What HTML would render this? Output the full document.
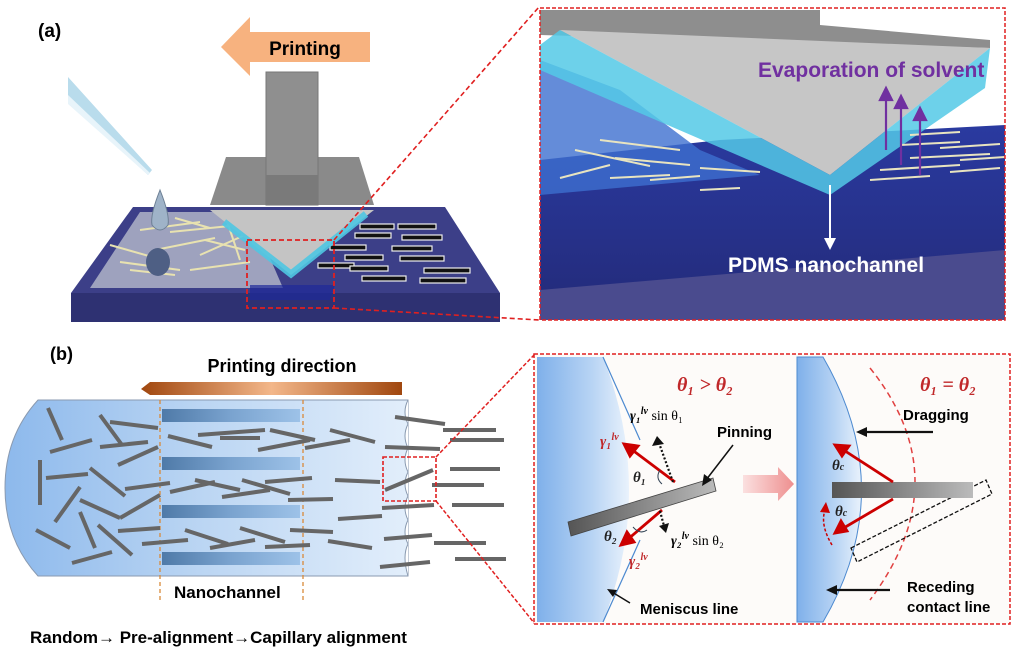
<!DOCTYPE html>
<html><head><meta charset="utf-8"><style>
html,body{margin:0;padding:0;background:#fff;}
svg{display:block;font-family:"Liberation Sans",sans-serif;}
.b{font-weight:bold;}
.m{font-family:"Liberation Serif",serif;font-style:italic;font-weight:bold;}
</style></head><body>
<svg width="1024" height="657" viewBox="0 0 1024 657" xmlns="http://www.w3.org/2000/svg">
<defs>
<linearGradient id="chan" x1="0" x2="1" y1="0" y2="0"><stop offset="0" stop-color="#8db9ec"/><stop offset="0.5" stop-color="#bcd6f3"/><stop offset="1" stop-color="#e2eefb"/></linearGradient>
<linearGradient id="stripe" x1="0" x2="1"><stop offset="0" stop-color="#4f7aa8"/><stop offset="0.5" stop-color="#7aa3cf"/><stop offset="1" stop-color="#9dc2e8"/></linearGradient>
<linearGradient id="parr" x1="0" x2="1"><stop offset="0" stop-color="#a0470f"/><stop offset="0.5" stop-color="#f3b78a"/><stop offset="1" stop-color="#a0470f"/></linearGradient>
<linearGradient id="liq" x1="0" x2="1"><stop offset="0" stop-color="#7fb0ea"/><stop offset="0.6" stop-color="#b8d4f4"/><stop offset="1" stop-color="#e9f2fc"/></linearGradient>
<linearGradient id="rod" x1="0" x2="1"><stop offset="0" stop-color="#555"/><stop offset="1" stop-color="#bbb"/></linearGradient>
<linearGradient id="pink" x1="0" x2="1"><stop offset="0" stop-color="#fbe0e0"/><stop offset="1" stop-color="#ee8f8f"/></linearGradient>
<linearGradient id="sub" x1="0" x2="0" y1="0" y2="1"><stop offset="0" stop-color="#2a3aa0"/><stop offset="1" stop-color="#232a78"/></linearGradient>
</defs>

<!-- ===== (a) main ===== -->
<text x="38" y="37" class="b" font-size="19">(a)</text>
<polygon points="221,47 250,17 250,32 370,32 370,62 250,62 250,76" fill="#f7b27f"/>
<text x="305" y="55" class="b" font-size="19" text-anchor="middle">Printing</text>
<!-- pipette -->
<polygon points="68,77 152,170 148,175 68,102" fill="#b9dcec"/>
<polygon points="68,95 150,173 148,175 68,104" fill="#e8f4fa"/>
<!-- substrate -->
<polygon points="71,293 500,293 500,322 71,322" fill="#2e3172"/>
<polygon points="133,207 445,207 500,293 71,293" fill="#3c3f88"/>
<!-- glass sheet -->
<polygon points="140,212 250,212 283,288 90,288" fill="#a9adc4" opacity="0.9"/>
<g stroke="#e8e2b0" stroke-width="2">
<line x1="140" y1="230" x2="200" y2="222"/><line x1="155" y1="250" x2="215" y2="238"/><line x1="120" y1="262" x2="180" y2="270"/>
<line x1="170" y1="232" x2="230" y2="226"/><line x1="200" y1="255" x2="245" y2="235"/><line x1="110" y1="245" x2="170" y2="262"/>
<line x1="190" y1="270" x2="250" y2="262"/><line x1="130" y1="270" x2="175" y2="275"/><line x1="175" y1="218" x2="210" y2="228"/>
<line x1="205" y1="240" x2="245" y2="250"/><line x1="225" y1="215" x2="240" y2="260"/>
</g>
<!-- droplet -->
<path d="M160,190 Q150,215 152,225 Q160,235 168,225 Q170,215 160,190Z" fill="#9fb3c8" stroke="#6c7f94"/>
<ellipse cx="158" cy="262" rx="12" ry="14" fill="#4e5f84"/>
<!-- aligned bars -->
<g fill="#111" stroke="#eee" stroke-width="1.2">
<rect x="360" y="224" width="34" height="5"/><rect x="398" y="224" width="38" height="5"/>
<rect x="355" y="233" width="36" height="5"/><rect x="402" y="235" width="40" height="5"/>
<rect x="330" y="245" width="36" height="5"/><rect x="392" y="246" width="40" height="5"/>
<rect x="345" y="255" width="38" height="5"/><rect x="400" y="256" width="44" height="5"/>
<rect x="318" y="263" width="36" height="5"/><rect x="350" y="266" width="38" height="5"/><rect x="424" y="268" width="46" height="5"/>
<rect x="362" y="276" width="44" height="5"/><rect x="420" y="278" width="46" height="5"/>
</g>
<!-- print head -->
<polygon points="226,157 359,157 374,205 210,205" fill="#8a8a8a"/>
<rect x="266" y="72" width="52" height="133" fill="#8f8f8f" stroke="#777"/>
<rect x="266" y="175" width="52" height="30" fill="#7a7a7a"/>
<polygon points="210,210 374,210 291,275" fill="#c4c4c4"/>
<polyline points="224,222 291,274 366,214" fill="none" stroke="#4fc6e2" stroke-width="7" opacity="0.9"/>
<polygon points="250,285 335,285 330,300 250,300" fill="#1e2a9a" opacity="0.7"/>
<!-- red box and lines -->
<rect x="247" y="240" width="87" height="68" fill="none" stroke="#e02020" stroke-width="1.8" stroke-dasharray="5,3"/>
<line x1="334" y1="240" x2="539" y2="7" stroke="#e02020" stroke-width="1.6" stroke-dasharray="5,3"/>
<line x1="334" y1="308" x2="539" y2="320" stroke="#e02020" stroke-width="1.6" stroke-dasharray="5,3"/>

<!-- ===== (a) inset ===== -->
<g>
<clipPath id="ia"><rect x="540" y="8" width="465" height="312"/></clipPath>
<g clip-path="url(#ia)">
<rect x="540" y="8" width="465" height="312" fill="#fff"/>
<polygon points="540,160 720,140 1005,125 1005,320 540,320" fill="url(#sub)"/>
<polygon points="540,290 1005,250 1005,320 540,320" fill="#4a4b8e"/>
<polygon points="540,60 620,90 700,150 760,175 540,195" fill="#3d6fd0" opacity="0.8"/>
<polygon points="540,10 820,10 820,25 990,40 990,48 540,35" fill="#8e8e8e"/>
<polygon points="560,30 990,48 830,175" fill="#c6c6c6"/>
<polygon points="560,30 830,175 830,195 540,70 540,45" fill="#53c9e6" opacity="0.85"/>
<polygon points="830,175 990,48 985,88 830,195" fill="#53c9e6" opacity="0.85"/>
<g stroke="#e8e4c0" stroke-width="2">
<line x1="575" y1="150" x2="650" y2="166"/><line x1="615" y1="158" x2="690" y2="165"/><line x1="560" y1="178" x2="610" y2="165"/>
<line x1="610" y1="178" x2="670" y2="175"/><line x1="650" y1="180" x2="700" y2="176"/><line x1="700" y1="168" x2="760" y2="172"/>
<line x1="700" y1="190" x2="740" y2="188"/><line x1="600" y1="140" x2="680" y2="150"/>
<line x1="870" y1="180" x2="930" y2="176"/><line x1="880" y1="170" x2="960" y2="165"/><line x1="910" y1="158" x2="990" y2="154"/>
<line x1="940" y1="148" x2="1000" y2="144"/><line x1="900" y1="145" x2="960" y2="142"/><line x1="950" y1="172" x2="1000" y2="168"/>
<line x1="910" y1="135" x2="960" y2="132"/><line x1="960" y1="160" x2="1005" y2="157"/>
</g>
</g>
<rect x="540" y="8" width="465" height="312" fill="none" stroke="#e02020" stroke-width="1.5" stroke-dasharray="4,2"/>
<text x="758" y="77" class="b" font-size="21" fill="#7030a0">Evaporation of solvent</text>
<g stroke="#7030a0" stroke-width="2.2" fill="#7030a0">
<line x1="886" y1="150" x2="886" y2="98"/><polygon points="880,100 886,88 892,100"/>
<line x1="901" y1="165" x2="901" y2="106"/><polygon points="895,108 901,96 907,108"/>
<line x1="920" y1="175" x2="920" y2="118"/><polygon points="914,120 920,108 926,120"/>
</g>
<line x1="830" y1="185" x2="830" y2="240" stroke="#fff" stroke-width="2"/>
<polygon points="824,238 830,250 836,238" fill="#fff"/>
<text x="728" y="272" class="b" font-size="21" fill="#fff">PDMS nanochannel</text>
</g>

<!-- ===== (b) main ===== -->
<text x="50" y="360" class="b" font-size="18">(b)</text>
<text x="282" y="372" class="b" font-size="18" text-anchor="middle">Printing direction</text>
<polygon points="141,389 150,382 402,382 402,395 150,395" fill="url(#parr)"/>
<path d="M38,400 L408,400 L408,576 L38,576 Q5,540 5,488 Q5,436 38,400Z" fill="url(#chan)" stroke="#8a9ab0" stroke-width="1"/>
<g fill="url(#stripe)">
<rect x="162" y="409" width="138" height="13"/><rect x="162" y="457" width="138" height="13"/>
<rect x="162" y="505" width="138" height="13"/><rect x="162" y="552" width="138" height="13"/>
</g>
<line x1="160" y1="400" x2="160" y2="600" stroke="#d98a3a" stroke-width="1.3" stroke-dasharray="4,3"/>
<line x1="303" y1="400" x2="303" y2="600" stroke="#d98a3a" stroke-width="1.3" stroke-dasharray="4,3"/>
<path d="M408,400 q-6,12 0,24 q-6,12 0,24 q-6,12 0,24 q-6,12 0,24 q-6,12 0,24 q-6,12 0,24 q-6,12 0,32" fill="#fff" stroke="#8a9ab0"/>
<g stroke="#666" stroke-width="4">
<line x1="48" y1="408" x2="62" y2="440"/><line x1="100" y1="415" x2="122" y2="445"/><line x1="110" y1="422" x2="158" y2="428"/>
<line x1="50" y1="452" x2="92" y2="440"/><line x1="100" y1="447" x2="148" y2="442"/><line x1="118" y1="465" x2="158" y2="447"/>
<line x1="40" y1="460" x2="40" y2="505"/><line x1="46" y1="478" x2="88" y2="474"/><line x1="90" y1="468" x2="125" y2="496"/>
<line x1="55" y1="522" x2="80" y2="487"/><line x1="80" y1="500" x2="120" y2="518"/><line x1="80" y1="512" x2="95" y2="548"/>
<line x1="120" y1="518" x2="160" y2="495"/><line x1="36" y1="530" x2="70" y2="548"/><line x1="98" y1="525" x2="132" y2="555"/>
<line x1="72" y1="563" x2="112" y2="552"/><line x1="118" y1="531" x2="160" y2="528"/><line x1="125" y1="489" x2="170" y2="483"/>
<line x1="168" y1="436" x2="212" y2="447"/><line x1="198" y1="435" x2="265" y2="430"/><line x1="220" y1="438" x2="260" y2="438"/>
<line x1="270" y1="430" x2="315" y2="440"/><line x1="258" y1="450" x2="310" y2="440"/><line x1="305" y1="448" x2="350" y2="440"/>
<line x1="330" y1="430" x2="375" y2="442"/><line x1="170" y1="492" x2="215" y2="482"/><line x1="195" y1="480" x2="240" y2="490"/>
<line x1="242" y1="480" x2="290" y2="494"/><line x1="265" y1="482" x2="312" y2="478"/><line x1="222" y1="497" x2="270" y2="490"/>
<line x1="288" y1="500" x2="333" y2="499"/><line x1="185" y1="530" x2="228" y2="544"/><line x1="210" y1="548" x2="255" y2="540"/>
<line x1="240" y1="528" x2="285" y2="542"/><line x1="265" y1="547" x2="310" y2="545"/><line x1="290" y1="530" x2="333" y2="532"/>
<line x1="328" y1="541" x2="372" y2="548"/><line x1="142" y1="544" x2="188" y2="540"/><line x1="335" y1="480" x2="380" y2="482"/>
<line x1="338" y1="519" x2="382" y2="516"/><line x1="395" y1="417" x2="445" y2="424"/><line x1="385" y1="447" x2="440" y2="449"/>
<line x1="385" y1="490" x2="433" y2="470"/><line x1="382" y1="508" x2="434" y2="505"/><line x1="384" y1="539" x2="432" y2="535"/>
<line x1="380" y1="567" x2="430" y2="562"/><line x1="443" y1="430" x2="496" y2="430"/><line x1="450" y1="440" x2="504" y2="440"/>
<line x1="450" y1="469" x2="500" y2="469"/><line x1="432" y1="485" x2="484" y2="485"/><line x1="452" y1="505" x2="504" y2="505"/>
<line x1="434" y1="543" x2="486" y2="543"/><line x1="455" y1="559" x2="506" y2="559"/>
</g>
<text x="174" y="598" class="b" font-size="17">Nanochannel</text>
<text x="30" y="643" class="b" font-size="17">Random→ Pre-alignment→Capillary alignment</text>
<rect x="383" y="457" width="53" height="44" fill="none" stroke="#e02020" stroke-width="1.6" stroke-dasharray="4,2"/>
<line x1="436" y1="457" x2="535" y2="354" stroke="#e02020" stroke-width="1.5" stroke-dasharray="4,2"/>
<line x1="436" y1="501" x2="535" y2="624" stroke="#e02020" stroke-width="1.5" stroke-dasharray="4,2"/>

<!-- ===== (b) inset ===== -->
<rect x="534" y="354" width="476" height="270" fill="#fdfbf9" stroke="#e02020" stroke-width="1.5" stroke-dasharray="4,2"/>
<path d="M537,357 L603,357 Q655,490 603,622 L537,622Z" fill="url(#liq)"/>
<path d="M603,357 Q622,400 640,440 M640,540 Q622,580 603,622" fill="none" stroke="#4d8ad0" stroke-width="1.2"/>
<polygon points="568,522 713,478 716,491 571,536" fill="url(#rod)" stroke="#444" stroke-width="0.8"/>
<g fill="#c00" stroke="#c00" stroke-width="2.8">
<line x1="675" y1="482" x2="631" y2="449"/><polygon points="624,444 638,446 630,456"/>
<line x1="662" y1="510" x2="627" y2="540"/><polygon points="621,545 627,532 634,542"/>
</g>
<g stroke="#111" stroke-width="2.2" stroke-dasharray="2,2" fill="none">
<line x1="673" y1="482" x2="659" y2="443"/><line x1="660" y1="511" x2="664" y2="526"/>
</g>
<polygon points="652,446 657,436 664,444" fill="#111"/><polygon points="659,526 666,533 669,523" fill="#111"/>
<path d="M660,470 Q655,478 662,484" fill="none" stroke="#345"/><path d="M633,527 Q640,535 647,530" fill="none" stroke="#345"/>
<text x="677" y="391" class="m" font-size="20" fill="#c0282a">θ₁ &gt; θ₂</text>
<text x="630" y="420" font-size="14" font-family="Liberation Serif,serif"><tspan class="m">γ₁</tspan><tspan font-size="10" dy="-6" class="m">lv</tspan><tspan dy="6"> sin θ₁</tspan></text>
<text x="600" y="446" class="m" font-size="15" fill="#c0282a">γ₁<tspan font-size="10" dy="-6">lv</tspan></text>
<text x="633" y="482" class="m" font-size="15" fill="#222">θ₁</text>
<text x="604" y="541" class="m" font-size="15" fill="#222">θ₂</text>
<text x="671" y="545" font-size="14" font-family="Liberation Serif,serif"><tspan class="m">γ₂</tspan><tspan font-size="10" dy="-6" class="m">lv</tspan><tspan dy="6"> sin θ₂</tspan></text>
<text x="629" y="566" class="m" font-size="15" fill="#c0282a">γ₂<tspan font-size="10" dy="-6">lv</tspan></text>
<text x="717" y="437" class="b" font-size="15">Pinning</text>
<line x1="733" y1="445" x2="706" y2="480" stroke="#111" stroke-width="1.5"/><polygon points="702,486 704,474 712,480" fill="#111"/>
<text x="640" y="614" class="b" font-size="15">Meniscus line</text>
<line x1="630" y1="603" x2="612" y2="592" stroke="#111" stroke-width="1.5"/><polygon points="607,589 617,590 613,597" fill="#111"/>
<polygon points="743,475 778,475 778,467 794,484 778,501 778,493 743,493" fill="url(#pink)"/>
<!-- right sub panel -->
<path d="M797,357 L823,357 Q900,490 823,622 L797,622Z" fill="url(#liq)" stroke="#4d8ad0" stroke-width="1"/>
<path d="M870,368 Q960,480 870,600" fill="none" stroke="#e04040" stroke-width="1.5" stroke-dasharray="6,4"/>
<polygon points="851,548 986,480 992,494 857,562" fill="none" stroke="#111" stroke-width="1.3" stroke-dasharray="4,2"/>
<rect x="832" y="482" width="141" height="16" fill="url(#rod)"/>
<text x="920" y="391" class="m" font-size="20" fill="#c0282a">θ₁ = θ₂</text>
<text x="903" y="420" class="b" font-size="15">Dragging</text>
<line x1="933" y1="432" x2="865" y2="432" stroke="#111" stroke-width="2.2"/><polygon points="856,432 867,427 867,437" fill="#111"/>
<g fill="#c00" stroke="#c00" stroke-width="2.8">
<line x1="893" y1="482" x2="842" y2="449"/><polygon points="835,445 849,446 842,456"/>
<line x1="893" y1="499" x2="842" y2="529"/><polygon points="835,533 841,521 847,531"/>
</g>
<text x="832" y="470" class="m" font-size="15" fill="#222">θ<tspan font-size="10">c</tspan></text>
<text x="835" y="516" class="m" font-size="15" fill="#222">θ<tspan font-size="10">c</tspan></text>
<path d="M832,545 Q820,525 825,510" fill="none" stroke="#c00" stroke-width="1.5" stroke-dasharray="3,2"/>
<polygon points="820,512 826,502 830,513" fill="#c00"/>
<text x="907" y="592" class="b" font-size="15">Receding</text>
<text x="907" y="612" class="b" font-size="15">contact line</text>
<line x1="890" y1="590" x2="835" y2="590" stroke="#111" stroke-width="2.2"/><polygon points="826,590 837,585 837,595" fill="#111"/>
</svg>
</body></html>
